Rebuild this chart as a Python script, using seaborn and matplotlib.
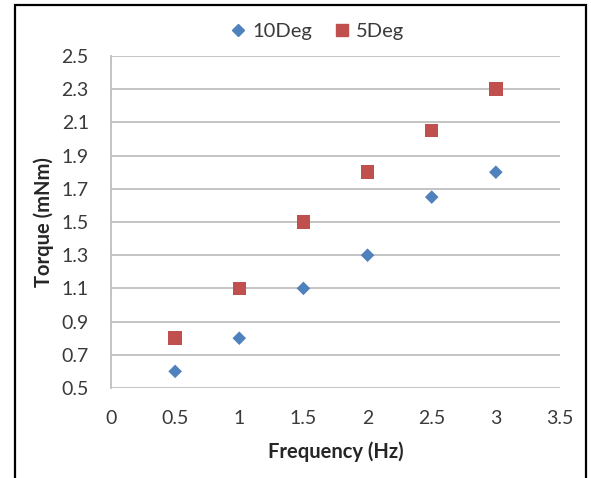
import matplotlib
matplotlib.use("Agg")
import matplotlib.pyplot as plt
from matplotlib.patches import Rectangle
import seaborn as sns
import pandas as pd

# Measured torque versus drive frequency for two stroke amplitudes
frequency = [0.5, 1.0, 1.5, 2.0, 2.5, 3.0]
torque_10deg = [0.6, 0.8, 1.1, 1.3, 1.65, 1.8]
torque_5deg = [0.8, 1.1, 1.5, 1.8, 2.05, 2.3]
series_names = ["10Deg", "5Deg"]
x_ticks = [0, 0.5, 1, 1.5, 2, 2.5, 3, 3.5]
y_ticks = [0.5, 0.7, 0.9, 1.1, 1.3, 1.5, 1.7, 1.9, 2.1, 2.3, 2.5]

sns.set_theme(style="white")
plt.rcParams["font.family"] = ["Lato", "DejaVu Sans"]

text_color = "#3A3A3A"
label_color = "#262626"
grid_color = "#BFBFBF"

df = pd.concat([
    pd.DataFrame({"Frequency": frequency, "Torque": torque_10deg, "Series": series_names[0]}),
    pd.DataFrame({"Frequency": frequency, "Torque": torque_5deg, "Series": series_names[1]}),
])

fig = plt.figure(figsize=(5.91, 4.78), dpi=100)
ax = fig.add_axes([111 / 591, 1 - 388 / 478, (560 - 111) / 591, (388 - 56) / 478])

sns.scatterplot(data=df[df["Series"] == "10Deg"], x="Frequency", y="Torque",
                marker="D", s=48, color="#4F81BD", edgecolor="none",
                ax=ax, zorder=3, legend=False)
sns.scatterplot(data=df[df["Series"] == "5Deg"], x="Frequency", y="Torque",
                marker="s", s=95, color="#C0504D", edgecolor="none",
                ax=ax, zorder=3, legend=False)

ax.set_xlim(0, 3.5)
ax.set_ylim(0.5, 2.5)
ax.set_xticks(x_ticks)
ax.set_xticklabels([f"{v:g}" for v in x_ticks])
ax.set_yticks(y_ticks)
ax.set_yticklabels([f"{v:.1f}" for v in y_ticks])
ax.tick_params(axis="both", length=0, labelsize=14, colors=text_color)
ax.tick_params(axis="x", pad=15.5)
ax.tick_params(axis="y", pad=16)

ax.yaxis.grid(True, color=grid_color, linewidth=1.3)
ax.xaxis.grid(False)
ax.set_axisbelow(True)
for side in ["top", "right", "bottom"]:
    ax.spines[side].set_visible(False)
ax.spines["left"].set_color(grid_color)
ax.spines["left"].set_linewidth(1.3)

ax.set_xlabel("Frequency (Hz)", fontsize=14.5, fontweight="bold", color=label_color, labelpad=11)
ax.set_ylabel("Torque (mNm)", fontsize=14.5, fontweight="bold", color=label_color, labelpad=5)

handles = [
    plt.Line2D([], [], marker="D", linestyle="none", color="#4F81BD", markersize=6.5),
    plt.Line2D([], [], marker="s", linestyle="none", color="#C0504D", markersize=9),
]
fig.legend(handles, series_names, loc="center", bbox_to_anchor=(316 / 591, 1 - 31 / 478),
           ncol=2, frameon=False, fontsize=14.5, handletextpad=0.2, columnspacing=1.0,
           handlelength=1.0, labelcolor=text_color)

# Chart-area frame
fig.add_artist(Rectangle((15 / 591, -0.05), (586 - 15) / 591, 1.05 - 5 / 478,
                         transform=fig.transFigure, fill=False,
                         edgecolor="black", linewidth=1.6, clip_on=False))

fig.savefig("out.png", dpi=100)
